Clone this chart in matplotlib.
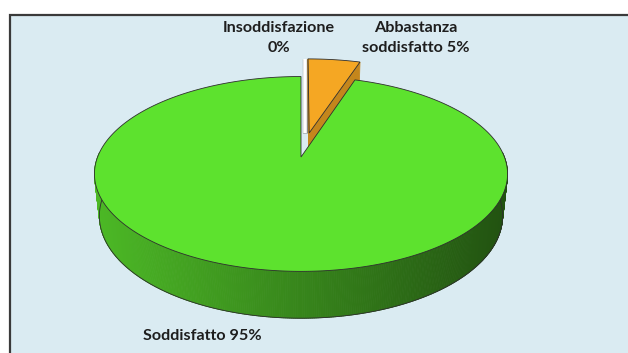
import numpy as np
import matplotlib
matplotlib.use("Agg")
import matplotlib.pyplot as plt
from matplotlib.patches import Polygon, Rectangle
from matplotlib import patheffects as pe
from matplotlib.colors import to_rgb

# survey answers (percent)
labels = ["Insoddisfazione", "Abbastanza soddisfatto", "Soddisfatto"]
values = [0, 5, 95]
slice_colors = ["#FFFFFF", "#F5A723", "#5DE22E"]
explode = [0.27, 0.27, 0.0]

BG = "#DAEBF2"
EDGE = "#2E2E2E"

# simple perspective camera for the 3-D disc
TILT = np.radians(30)
S, C = np.sin(TILT), np.cos(TILT)
DIST = 5.108
FOC = 1015.0
THICK = 0.236
CX, CY = 301.0, 198.6


def proj(X, Y, Z):
    v = Y * C + Z * S
    w = DIST + Z * C - Y * S
    return CX + FOC * X / w, CY - FOC * v / w, w


CAM = np.array([0.0, DIST * S, -DIST * C])


def shade(col, k):
    r, g, b = to_rgb(col)
    return (r * k, g * k, b * k)


fig = plt.figure(figsize=(6.28, 3.53), dpi=100)
ax = fig.add_axes([0, 0, 1, 1])
ax.set_xlim(0, 628)
ax.set_ylim(353, 0)
ax.axis("off")
ax.add_patch(Rectangle((9.5, 14.5), 640, 360, facecolor=BG, edgecolor="#3A3A3A",
                       lw=1.6, zorder=0))

total = float(sum(values))
bounds = []
acc = 0.0
for v in values:
    a0 = 90 - 360 * acc / total
    acc += v
    a1 = 90 - 360 * acc / total
    bounds.append((a0, a1))

xmin, xmax = CX - 206, CX + 206
zo = 1

# small (exploded, far) wedges first, the big one last
order = [i for i in range(len(values)) if values[i] < 50] + \
        [i for i in range(len(values)) if values[i] >= 50]

for i in order:
    a0, a1 = bounds[i]
    mid = np.radians((a0 + a1) / 2)
    ex, ez = explode[i] * np.cos(mid), explode[i] * np.sin(mid)
    col = slice_colors[i]

    if values[i] == 0:
        # empty slice: just its edge, seen almost edge-on
        t = np.radians(a0)
        pts = [proj(ex, THICK, ez)[:2], proj(ex + np.cos(t), THICK, ez + np.sin(t))[:2]]
        xs, ys = zip(*pts)
        ax.plot([x + 3.5 for x in xs], ys, color=col, lw=2.6, solid_capstyle="butt",
                zorder=zo, path_effects=[pe.Stroke(linewidth=3.8, foreground="#8A8A8A"),
                                         pe.Normal()])
        zo += 1
        continue

    n = max(int(abs(a0 - a1) * 2), 8)
    phis = np.radians(np.linspace(a0, a1, n))
    faces = []

    # outer rim quads
    for p0, p1 in zip(phis[:-1], phis[1:]):
        pm = (p0 + p1) / 2
        if np.sin(pm) > 0.05:
            continue
        quad = [proj(ex + np.cos(p), y, ez + np.sin(p)) for p, y in
                [(p0, THICK), (p1, THICK), (p1, 0), (p0, 0)]]
        xs = np.mean([q[0] for q in quad])
        t = np.clip((xs - xmin) / (xmax - xmin), 0, 1)
        k = 0.82 - 0.46 * t
        faces.append((np.mean([q[2] for q in quad]), [q[:2] for q in quad], shade(col, k)))

    # radial walls
    for ang, sgn in [(a0, 1), (a1, -1)]:
        t = np.radians(ang)
        nrm = np.array([-np.sin(t), 0, np.cos(t)]) * sgn
        P = np.array([ex, THICK / 2, ez])
        if np.dot(CAM - P, nrm) <= 0:
            continue
        quad = [proj(ex, THICK, ez), proj(ex + np.cos(t), THICK, ez + np.sin(t)),
                proj(ex + np.cos(t), 0, ez + np.sin(t)), proj(ex, 0, ez)]
        faces.append((np.mean([q[2] for q in quad]), [q[:2] for q in quad], shade(col, 0.8)))

    for _, poly, fc in sorted(faces, key=lambda f: -f[0]):
        ax.add_patch(Polygon(poly, closed=True, facecolor=fc, edgecolor=fc, lw=0.6,
                             zorder=zo))
    zo += 1

    # bottom outline of the rim
    front = phis[np.sin(phis) < 0.05]
    if len(front):
        bx, by = zip(*[proj(ex + np.cos(p), 0, ez + np.sin(p))[:2] for p in front])
        ax.plot(bx, by, color=EDGE, lw=0.6, zorder=zo)

    # top face
    top = [proj(ex, THICK, ez)[:2]]
    top += [proj(ex + np.cos(p), THICK, ez + np.sin(p))[:2] for p in phis]
    ax.add_patch(Polygon(top, closed=True, facecolor=col, edgecolor=EDGE, lw=0.6,
                         zorder=zo))
    zo += 1

txt = dict(fontsize=11.6, fontweight="bold", family="Lato", color="#1E1E1E",
           ha="center", va="center", zorder=20, linespacing=1.5)
ax.text(279, 38, f"{labels[0]}\n{values[0]}%", **txt)
ax.text(416, 38, f"Abbastanza\nsoddisfatto {values[1]}%", **txt)
ax.text(202, 336, f"{labels[2]} {values[2]}%", **txt)

fig.savefig("out.png", dpi=100, facecolor="white")
